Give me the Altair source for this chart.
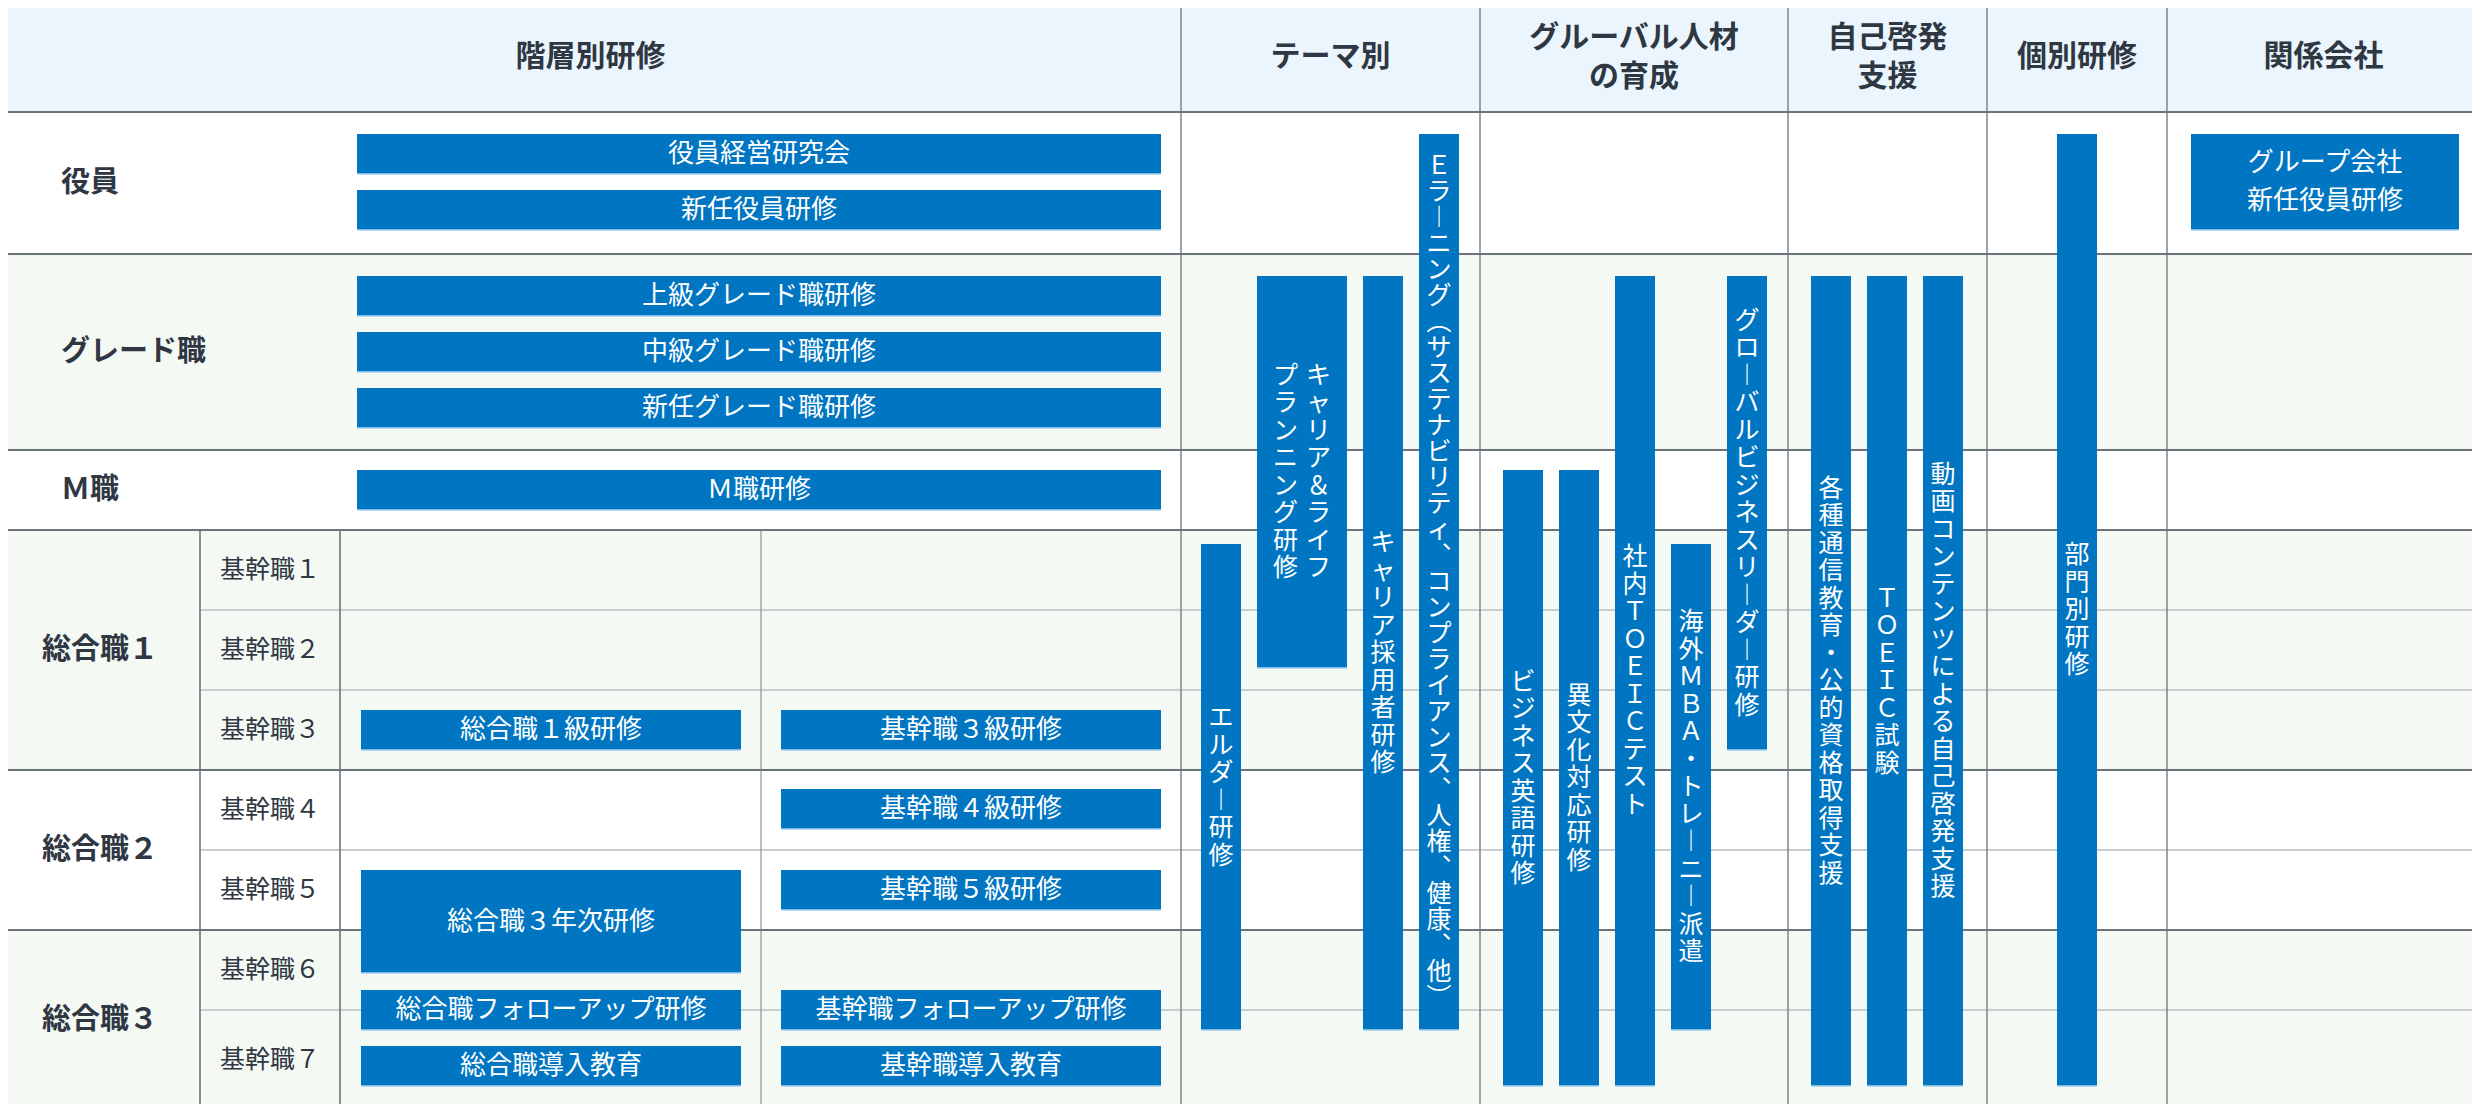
import altair as alt
import pandas as pd

# ---------------- layout grid (reference units: 2480 x 1112) ----------------
SECTION_NAMES = ["階層別研修", "テーマ別", "グルーバル人材\nの育成", "自己啓発\n支援", "個別研修", "関係会社"]
SECTION_EDGES = [0, 1181, 1480, 1788, 1987, 2167, 2480]
HEADER_BOTTOM = 112

ROW_NAMES = ["役員", "グレード職", "Ｍ職", "総合職１", "総合職２", "総合職３"]
ROW_EDGES = [112, 254, 450, 530, 770, 930, 1110]
ROW_SHADED = [False, True, False, True, False, True]
ROW_CENTERED = [False, False, False, True, True, True]

SUB_NAMES = ["基幹職１", "基幹職２", "基幹職３", "基幹職４", "基幹職５", "基幹職６", "基幹職７"]
SUB_EDGES = [530, 610, 690, 770, 850, 930, 1010, 1110]
LABEL_COL_EDGES = [0, 200, 340]
INNER_SPLIT = 761

# ---------------- horizontal programmes ----------------
H_LABELS = ["役員経営研究会", "新任役員研修", "上級グレード職研修", "中級グレード職研修", "新任グレード職研修",
            "Ｍ職研修", "総合職１級研修", "基幹職３級研修", "基幹職４級研修", "基幹職５級研修",
            "総合職３年次研修", "総合職フォローアップ研修", "基幹職フォローアップ研修",
            "総合職導入教育", "基幹職導入教育", "グループ会社\n新任役員研修"]
H_X1 = [357, 357, 357, 357, 357, 357, 361, 781, 781, 781, 361, 361, 781, 361, 781, 2191]
H_X2 = [1161, 1161, 1161, 1161, 1161, 1161, 741, 1161, 1161, 1161, 741, 741, 1161, 741, 1161, 2459]
H_Y1 = [134, 190, 276, 332, 388, 470, 710, 710, 789, 870, 870, 990, 990, 1046, 1046, 134]
H_Y2 = [174, 230, 316, 372, 428, 510, 750, 750, 829, 910, 973, 1030, 1030, 1086, 1086, 230]

# ---------------- vertical programmes ----------------
V_LABELS = ["エルダー研修", "キャリア＆ライフ/プランニング研修", "キャリア採用者研修",
            "Ｅラーニング（サステナビリティ、コンプライアンス、人権、健康、他）",
            "ビジネス英語研修", "異文化対応研修", "社内ＴＯＥＩＣテスト", "海外ＭＢＡ・トレーニー派遣",
            "グローバルビジネスリーダー研修", "各種通信教育・公的資格取得支援", "ＴＯＥＩＣ試験",
            "動画コンテンツによる自己啓発支援", "部門別研修"]
V_X1 = [1201, 1257, 1363, 1419, 1503, 1559, 1615, 1671, 1727, 1811, 1867, 1923, 2057]
V_X2 = [1241, 1347, 1403, 1459, 1543, 1599, 1655, 1711, 1767, 1851, 1907, 1963, 2097]
V_Y1 = [544, 276, 276, 134, 470, 470, 276, 544, 276, 276, 276, 276, 134]
V_Y2 = [1030, 668, 1030, 1030, 1086, 1086, 1086, 1030, 750, 1086, 1086, 1086, 1086]
V_COMPACT = [False, False, False, True, False, False, False, False, False, False, False, False, False]

# ---------------- styles ----------------
FONT = "Noto Sans CJK JP"
BLUE = "#0075C2"
EDGE = "#A9D2EF"
TXT = "#2f3742"
HEAD_BG = "#EBF5FE"
SHADE_BG = "#F4F9F4"
MAJOR = "#6c737a"
MINOR = "#c9ced2"
COLLINE = "#7d848b"
LH_H = 38      # horizontal multi-line spacing
LH_HEAD = 39
LH_V = 27.5    # vertical character pitch
LH_V_C = 26    # compact vertical pitch
PAGE_MARGIN = 8

VERT_MAP = {"ー": "︱", "（": "︵", "）": "︶", "、": "︑"}


def vert(s):
    return "\n".join(VERT_MAP.get(c, c) for c in s)


def first_line_y(center, text, lh):
    # Vega puts the first line at y; shift so the whole block is centred
    n = text.count("\n") + 1
    return center - (n - 1) * lh / 2


# 1:1 scale, offset by the page margin so the drawing lines up with the window
xs = alt.Scale(domain=[0, 2480], range=[-PAGE_MARGIN, 2480 - PAGE_MARGIN], nice=False, zero=False)
ys = alt.Scale(domain=[0, 1112], range=[-PAGE_MARGIN, 1112 - PAGE_MARGIN], nice=False, zero=False)

X = lambda f: alt.X(f"{f}:Q", scale=xs, axis=None)
X2 = lambda f: alt.X2(f"{f}:Q")
Y = lambda f: alt.Y(f"{f}:Q", scale=ys, axis=None)
Y2 = lambda f: alt.Y2(f"{f}:Q")

# backgrounds
bg_rows = [dict(x=0, x2=2480, y=0, y2=HEADER_BOTTOM, fill=HEAD_BG)]
for i in range(len(ROW_NAMES)):
    bg_rows.append(dict(x=0, x2=2480, y=ROW_EDGES[i], y2=ROW_EDGES[i + 1],
                        fill=SHADE_BG if ROW_SHADED[i] else "#FFFFFF"))
bg_rows.append(dict(x=0, x2=2480, y=ROW_EDGES[-1], y2=1112, fill="#FFFFFF"))
bg = alt.Chart(pd.DataFrame(bg_rows)).mark_rect().encode(
    x=X("x"), x2=X2("x2"), y=Y("y"), y2=Y2("y2"), color=alt.Color("fill:N", scale=None))

# grid lines
lines = []
sub_inner = [e for e in SUB_EDGES[1:-1] if e not in ROW_EDGES]
for yv in sub_inner:
    lines.append(dict(x=LABEL_COL_EDGES[1], x2=2480, y=yv, y2=yv, c=MINOR, w=2))
for xv in SECTION_EDGES[1:-1]:
    lines.append(dict(x=xv, x2=xv, y=0, y2=ROW_EDGES[-1], c=COLLINE, w=1.5))
lines.append(dict(x=INNER_SPLIT, x2=INNER_SPLIT, y=SUB_EDGES[0], y2=SUB_EDGES[-1], c="#8e959b", w=1.2))
for xv in LABEL_COL_EDGES[1:]:
    lines.append(dict(x=xv, x2=xv, y=SUB_EDGES[0], y2=SUB_EDGES[-1], c=MAJOR, w=1.6))
for yv in ROW_EDGES:
    lines.append(dict(x=0, x2=2480, y=yv, y2=yv, c=MAJOR, w=2))
grid = alt.Chart(pd.DataFrame(lines)).mark_rule().encode(
    x=X("x"), x2=X2("x2"), y=Y("y"), y2=Y2("y2"),
    color=alt.Color("c:N", scale=None), size=alt.Size("w:Q", scale=None))

# bars
hdf = pd.DataFrame(dict(label=H_LABELS, x=H_X1, x2=H_X2, y=H_Y1, y2=H_Y2))
hdf["xc"] = (hdf.x + hdf.x2) / 2
hdf["yt"] = [first_line_y((a + b) / 2, t, LH_H) for a, b, t in zip(hdf.y, hdf.y2, hdf.label)]
vdf = pd.DataFrame(dict(label=V_LABELS, x=V_X1, x2=V_X2, y=V_Y1, y2=V_Y2, compact=V_COMPACT))
bars_df = pd.concat([hdf[["x", "x2", "y", "y2"]], vdf[["x", "x2", "y", "y2"]]], ignore_index=True)

bars = alt.Chart(bars_df).mark_rect(color=BLUE).encode(
    x=X("x"), x2=X2("x2"), y=Y("y"), y2=Y2("y2"))
edges = alt.Chart(bars_df).mark_rule(color=EDGE, strokeWidth=1.5).encode(
    x=X("x"), x2=X2("x2"), y=Y("y2"))

htext = alt.Chart(hdf).mark_text(font=FONT, fontSize=26, color="white", align="center",
                                 baseline="middle", lineBreak="\n", lineHeight=LH_H).encode(
    x=X("xc"), y=Y("yt"), text="label:N")

# vertical text: one column per segment, columns run right to left
vt_rows = []
for _, r in vdf.iterrows():
    cols = r.label.split("/")
    n = len(cols)
    lh = LH_V_C if r.compact else LH_V
    for k, seg in enumerate(cols):
        off = ((n - 1) / 2 - k) * 33
        t = vert(seg)
        vt_rows.append(dict(t=t, xc=(r.x + r.x2) / 2 + off,
                            yt=first_line_y((r.y + r.y2) / 2, t, lh),
                            compact=bool(r.compact)))
vtdf = pd.DataFrame(vt_rows)
vtext_n = alt.Chart(vtdf[~vtdf.compact]).mark_text(
    font=FONT, fontSize=25, color="white", align="center", baseline="middle",
    lineBreak="\n", lineHeight=LH_V).encode(x=X("xc"), y=Y("yt"), text="t:N")
vtext_c = alt.Chart(vtdf[vtdf.compact]).mark_text(
    font=FONT, fontSize=25, color="white", align="center", baseline="middle",
    lineBreak="\n", lineHeight=LH_V_C).encode(x=X("xc"), y=Y("yt"), text="t:N")

# header text
head_df = pd.DataFrame(dict(t=SECTION_NAMES,
                            xc=[(SECTION_EDGES[i] + SECTION_EDGES[i + 1]) / 2 for i in range(len(SECTION_NAMES))]))
head_df["yt"] = [first_line_y(HEADER_BOTTOM / 2 + 1, t, LH_HEAD) for t in head_df.t]
head = alt.Chart(head_df).mark_text(font=FONT, fontSize=30, fontWeight="bold", color=TXT,
                                    align="center", baseline="middle", lineBreak="\n",
                                    lineHeight=LH_HEAD).encode(x=X("xc"), y=Y("yt"), text="t:N")

# row labels
row_df = pd.DataFrame(dict(t=ROW_NAMES, centered=ROW_CENTERED,
                           yc=[(ROW_EDGES[i] + ROW_EDGES[i + 1]) / 2 for i in range(len(ROW_NAMES))]))
row_df["xl"] = 61
row_df["xc"] = (LABEL_COL_EDGES[0] + LABEL_COL_EDGES[1]) / 2
row_left = alt.Chart(row_df[~row_df.centered]).mark_text(
    font=FONT, fontSize=29, fontWeight="bold", color=TXT, align="left", baseline="middle").encode(
    x=X("xl"), y=Y("yc"), text="t:N")
row_mid = alt.Chart(row_df[row_df.centered]).mark_text(
    font=FONT, fontSize=29, fontWeight="bold", color=TXT, align="center", baseline="middle").encode(
    x=X("xc"), y=Y("yc"), text="t:N")

sub_df = pd.DataFrame(dict(t=SUB_NAMES,
                           yc=[(SUB_EDGES[i] + SUB_EDGES[i + 1]) / 2 for i in range(len(SUB_NAMES))]))
sub_df["xc"] = (LABEL_COL_EDGES[1] + LABEL_COL_EDGES[2]) / 2
sub = alt.Chart(sub_df).mark_text(font=FONT, fontSize=25, color=TXT, align="center",
                                  baseline="middle").encode(x=X("xc"), y=Y("yc"), text="t:N")

chart = alt.layer(bg, grid, bars, edges, htext, vtext_n, vtext_c, head, row_left, row_mid, sub).properties(
    width=2480 - 2 * PAGE_MARGIN, height=1112 - 2 * PAGE_MARGIN, padding=0, background="white",
    autosize=alt.AutoSizeParams(type="none")
).configure_view(stroke=None)

chart.save("out.html", embed_options={"renderer": "svg", "actions": False})
